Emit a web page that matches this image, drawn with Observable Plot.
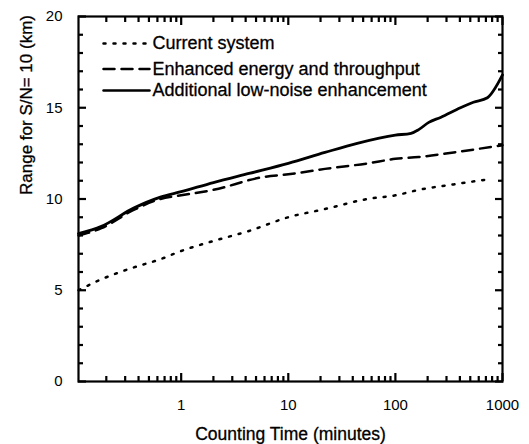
<!DOCTYPE html>
<html>
<head>
<meta charset="utf-8">
<script src="https://cdn.jsdelivr.net/npm/d3@7"></script>
<script src="https://cdn.jsdelivr.net/npm/@observablehq/plot@0.6"></script>
<style>
  html, body { margin: 0; padding: 0; background: white; }
</style>
</head>
<body>
<div id="chart"></div>
<script>
// ---- data ----
const seriesNames = ["Current system", "Enhanced energy and throughput", "Additional low-noise enhancement"];

const currentTime  = [0.11, 0.18, 0.36, 0.64, 1, 2, 4.3, 10, 22, 55, 100, 165, 350, 780];
const currentRange = [5.0, 5.6, 6.25, 6.7, 7.15, 7.7, 8.25, 9.0, 9.45, 10.0, 10.2, 10.5, 10.8, 11.1];

const enhancedTime  = [0.11, 0.18, 0.36, 0.64, 1, 2, 5.8, 10, 22, 55, 100, 165, 350, 1000];
const enhancedRange = [8.0, 8.4, 9.4, 10.0, 10.2, 10.5, 11.2, 11.35, 11.65, 11.95, 12.2, 12.3, 12.55, 12.95];

const lowNoiseTime  = [0.11, 0.18, 0.36, 0.64, 1, 2, 4.3, 10, 22, 44, 100, 140, 165, 205, 264, 405, 535, 723, 1000];
const lowNoiseRange = [8.1, 8.5, 9.5, 10.1, 10.4, 10.9, 11.4, 11.95, 12.55, 13.05, 13.5, 13.6, 13.8, 14.2, 14.47, 15.0, 15.3, 15.55, 16.8];

const xTickLabels = [1, 10, 100, 1000];
const xMinorTicks = [0.2,0.3,0.4,0.5,0.6,0.7,0.8,0.9, 2,3,4,5,6,7,8,9, 20,30,40,50,60,70,80,90, 200,300,400,500,600,700,800,900];
const yTickLabels = [0, 5, 10, 15, 20];
const yMinorTicks = [1,2,3,4,6,7,8,9,11,12,13,14,16,17,18,19];

const xLabel = "Counting Time (minutes)";
const yLabel = "Range for S/N= 10 (km)";

// ---- build tables ----
const toRows = (ts, vs) => ts.map((t, i) => ({t, v: vs[i]}));
const rowsCurrent = toRows(currentTime, currentRange);
const rowsEnhanced = toRows(enhancedTime, enhancedRange);
const rowsLowNoise = toRows(lowNoiseTime, lowNoiseRange);

// ---- layout / styles ----
const W = 529, H = 444;
const mL = 78, mR = 27, mT = 16, mB = 63;
const dashStyles = ["2,8", "11,7", null];
const lineW = 2.5;
const font = "'Liberation Sans', Arial, Helvetica, sans-serif";

const lineShape = { draw(context, l) { context.moveTo(0, 0); context.lineTo(0, -l); } };

// inward tick marks via axis marks with negative tick size
const tickColor = "black", tw = 2.2, minorLen = 5, majorLen = 8;
function tickAxisX(values, side, len) {
  return Plot.axisX(values, { anchor: side, tickSize: -len, tickFormat: () => "", label: null, stroke: tickColor, strokeWidth: tw });
}
function tickAxisY(values, side, len) {
  return Plot.axisY(values, { anchor: side, tickSize: -len, tickFormat: () => "", label: null, stroke: tickColor, strokeWidth: tw });
}
const tickMarks = [
  tickAxisX(xMinorTicks, "bottom", minorLen),
  tickAxisX(xTickLabels, "bottom", majorLen),
  tickAxisX(xMinorTicks, "top", minorLen),
  tickAxisX(xTickLabels, "top", majorLen),
  tickAxisY(yMinorTicks, "left", minorLen),
  tickAxisY(yTickLabels, "left", majorLen),
  tickAxisY(yMinorTicks, "right", minorLen),
  tickAxisY(yTickLabels, "right", majorLen)
];

const legendRowsDy = [27, 52.5, 74];
const legendMarks = [];
seriesNames.forEach((name, i) => {
  legendMarks.push(Plot.vector([0], {
    frameAnchor: "top-left", dx: 25, dy: legendRowsDy[i], rotate: 90, length: 46,
    anchor: "start", shape: lineShape, stroke: "black", strokeWidth: lineW,
    strokeDasharray: dashStyles[i] ?? undefined
  }));
  legendMarks.push(Plot.text([name], {
    frameAnchor: "top-left", dx: 74, dy: legendRowsDy[i], textAnchor: "start",
    lineAnchor: "middle", fontSize: 18, fill: "black", stroke: "black", strokeWidth: 0.3
  }));
});

const chart = Plot.plot({
  width: W,
  height: H,
  marginLeft: mL,
  marginRight: mR,
  marginTop: mT,
  marginBottom: mB,
  style: { fontFamily: font, fontSize: "15px", color: "black" },
  x: { type: "log", domain: [0.11, 1000] },
  y: { domain: [0, 20] },
  marks: [
    Plot.frame({ stroke: "black", strokeWidth: 2.2 }),
    ...tickMarks,
    // curves
    Plot.line(rowsCurrent, { x: "t", y: "v", stroke: "black", strokeWidth: lineW, strokeDasharray: dashStyles[0], curve: "monotone-x" }),
    Plot.line(rowsEnhanced, { x: "t", y: "v", stroke: "black", strokeWidth: lineW, strokeDasharray: dashStyles[1], curve: "monotone-x" }),
    Plot.line(rowsLowNoise, { x: "t", y: "v", stroke: "black", strokeWidth: 2.8, curve: "monotone-x" }),
    // tick labels
    Plot.axisX(xTickLabels, { anchor: "bottom", tickSize: 0, tickPadding: 18, tickFormat: d => String(d), label: null, fontSize: 15, stroke: "black", strokeWidth: 0.25 }),
    Plot.axisY(yTickLabels, { anchor: "left", tickSize: 0, tickPadding: 16, tickFormat: d => String(d), label: null, fontSize: 15, stroke: "black", strokeWidth: 0.25 }),
    // axis titles
    Plot.text([xLabel], { frameAnchor: "bottom", dy: 46, lineAnchor: "top", fontSize: 17.5, fill: "black", stroke: "black", strokeWidth: 0.3 }),
    Plot.text([yLabel], { frameAnchor: "left", dx: -52, dy: -4, rotate: -90, fontSize: 17, fill: "black", stroke: "black", strokeWidth: 0.3 }),
    // legend
    ...legendMarks
  ]
});

document.getElementById("chart").appendChild(chart);
</script>
</body>
</html>
